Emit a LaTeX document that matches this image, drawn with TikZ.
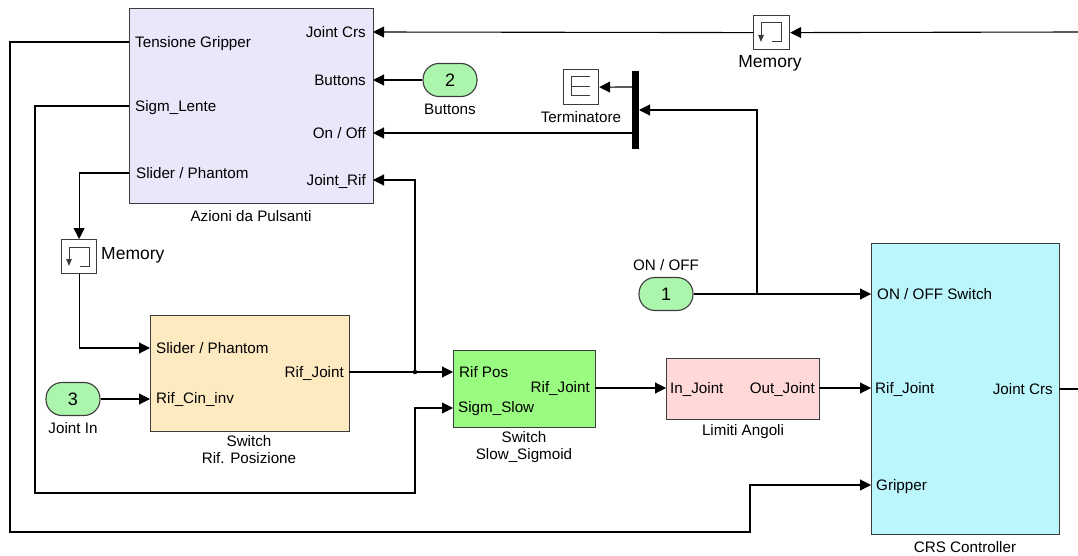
\documentclass[tikz,border=0pt]{standalone}
\usepackage{fontspec}
\setmainfont{Liberation Sans}
\usetikzlibrary{arrows.meta}
\definecolor{azfill}{RGB}{232,232,250}
\definecolor{swrfill}{RGB}{253,234,192}
\definecolor{swsfill}{RGB}{153,252,128}
\definecolor{limfill}{RGB}{255,216,216}
\definecolor{crsfill}{RGB}{186,246,252}
\definecolor{infill}{RGB}{172,245,172}
\definecolor{bordc}{RGB}{60,60,60}
\begin{document}
\begin{tikzpicture}[x=1pt,y=-1pt,
  every node/.style={font=\fontsize{15.2}{17}\selectfont, inner sep=0pt},
  blk/.style={draw=bordc, line width=1.3pt, anchor=north west, inner sep=0pt},
  plab/.style={text height=10.8pt, text depth=0pt},
  blab/.style={align=center},
  inport/.style={draw=bordc, line width=1.1pt, fill=infill, rounded corners=16pt, minimum width=54, minimum height=33, font=\fontsize{18}{20}\selectfont},
  sig/.style={line width=1.1pt, -{Triangle[length=11pt,width=11pt]}},
  wire/.style={line width=1.1pt},
  icon/.style={line width=1pt, draw=bordc}
]
\useasboundingbox (0,0) rectangle (1078,556);

% ---------- blocks ----------
\node[blk, fill=azfill, minimum width=244, minimum height=195] (az) at (129,8) {};
\node[blk, fill=swrfill, minimum width=199, minimum height=116] (swr) at (150,315) {};
\node[blk, fill=swsfill, minimum width=142, minimum height=77] (sws) at (453,350) {};
\node[blk, fill=limfill, minimum width=153, minimum height=61] (lim) at (666,358) {};
\node[blk, fill=crsfill, minimum width=188, minimum height=291] (crs) at (871,243) {};
\node[blk, fill=white, line width=1.2pt, minimum width=36, minimum height=34] (memA) at (753,15) {};
\node[blk, fill=white, line width=1.2pt, minimum width=35, minimum height=34] (memB) at (61,239) {};
\node[blk, fill=white, line width=1.2pt, minimum width=35, minimum height=35] (term) at (563,69) {};
\node[fill=black, minimum width=7, minimum height=78, anchor=north west] (bar) at (632,71) {};

\node[inport] (in1) at (666,294) {1};
\node[inport] (in2) at (450,80) {2};
\node[inport] (in3) at (73,399) {3};

% ---------- icons ----------
\draw[icon] (memA.north west) ++(19,27) -- ++(9,0) -- ++(0,-19) -- ++(-20,0);
\draw[icon, -{Triangle[length=7pt,width=5.5pt]}] (memA.north west) ++(8,8) -- ++(0,19);
\draw[icon] (memB.north west) ++(19,27) -- ++(9,0) -- ++(0,-19) -- ++(-20,0);
\draw[icon, -{Triangle[length=7pt,width=5.5pt]}] (memB.north west) ++(8,8) -- ++(0,19);
\draw[icon] (term.north west) ++(27,8) -- ++(-19,0) -- ++(0,19) -- ++(19,0);
\draw[icon] (term.north west) ++(8,17.5) -- ++(19,0);

% ---------- port labels ----------
\node[plab, anchor=west] (azTG) at (135,42) {Tensione Gripper};
\node[plab, anchor=west] (azSL) at (135,106) {Sigm\_Lente};
\node[plab, anchor=west] (azSP) at (136,173) {Slider / Phantom};
\node[plab, anchor=east] (azJCl) at (366,32) {Joint Crs};
\node[plab, anchor=east] (azBTl) at (366,80) {Buttons};
\node[plab, anchor=east] (azOOl) at (366,133) {On / Off};
\node[plab, anchor=east] (azJRl) at (366,180) {Joint\_Rif};

\node[plab, anchor=west] (swrSP) at (156,348) {Slider / Phantom};
\node[plab, anchor=west] (swrRC) at (156,398) {Rif\_Cin\_inv};
\node[plab, anchor=east] (swrRJ) at (344,372) {Rif\_Joint};

\node[plab, anchor=west] (swsRP) at (459,372) {Rif Pos};
\node[plab, anchor=west] (swsSS) at (458,407) {Sigm\_Slow};
\node[plab, anchor=east] (swsRJ) at (590,387) {Rif\_Joint};

\node[plab, anchor=west] (limIn) at (670,388) {In\_Joint};
\node[plab, anchor=east] (limOut) at (815,388) {Out\_Joint};

\node[plab, anchor=west] (crsON) at (877,294) {ON / OFF Switch};
\node[plab, anchor=west] (crsRJ) at (875,388) {Rif\_Joint};
\node[plab, anchor=west] (crsGR) at (876,485) {Gripper};
\node[plab, anchor=east] (crsJC) at (1053,389) {Joint Crs};

% ---------- block labels ----------
\node[blab] (azL) at (251,216) {Azioni da Pulsanti};
\node[blab] (swrL) at (249,450) {Switch\\Rif. Posizione};
\node[blab] (swsL) at (524,447) {Switch\\Slow\_Sigmoid};
\node[blab] (limL) at (743,432) {Limiti Angoli};
\node[blab] (crsL) at (965,547) {CRS Controller};
\node[blab] (in1L) at (666,265) {ON / OFF};
\node[blab] (in2L) at (450,109) {Buttons};
\node[blab] (in3L) at (73,428) {Joint In};
\node[blab] (termL) at (581,117) {Terminatore};
\node[blab, font=\fontsize{17.5}{20}\selectfont] (memAL) at (770,63) {Memory};
\node[anchor=west, font=\fontsize{17.5}{20}\selectfont] (memBL) at (101,255) {Memory};

% ---------- port coordinates ----------
\coordinate (rin) at (1078,32);
\coordinate (rout) at (1078,389);
\coordinate (azJC) at (373,32);
\coordinate (azBT) at (373,80);
\coordinate (azOO) at (373,133);
\coordinate (azJR) at (373,180);
\coordinate (azTGp) at (129,42);
\coordinate (azSLp) at (129,106);
\coordinate (azSPp) at (129,173);
\coordinate (barT) at (632,87);
\coordinate (barO) at (632,133);
\coordinate (barIn) at (639,110);
\coordinate (swrSPp) at (150,348);
\coordinate (swrRCp) at (150,399);
\coordinate (swrOut) at (349,372);
\coordinate (swsRPp) at (453,372);
\coordinate (swsSSp) at (453,408);
\coordinate (swsOut) at (595,388);
\coordinate (limInp) at (666,388);
\coordinate (limOutp) at (819,388);
\coordinate (crsONp) at (871,294);
\coordinate (crsRJp) at (871,388);
\coordinate (crsGRp) at (871,485);
\coordinate (crsOut) at (1059,389);
\coordinate (jOn) at (757,294);
\coordinate (jRif) at (415,372);

% ---------- connectors ----------
\draw[sig] (rin) -- (memA.east);
\draw[sig] (memA.west) -- (azJC);
\draw[sig] (in2.west) -- (azBT);
\draw[sig] (barT) -- (term.east);
\draw[sig] (barO) -- (azOO);
\draw[sig] (in1.east) -- (crsONp);
\draw[sig] (jOn) |- (barIn);
\draw[sig] (swrOut) -- (swsRPp);
\fill (jRif) circle (2.2pt);
\draw[sig] (jRif) |- (azJR);
\draw[sig] (azSLp) -- (35,106) -- (35,493) -- (415,493) -- (415,408) -- (swsSSp);
\draw[sig] (azTGp) -- (10,42) -- (10,532) -- (750,532) -- (750,485) -- (crsGRp);
\draw[sig] (azSPp) -| (memB.north);
\draw[sig] (memB.south) |- (swrSPp);
\draw[sig] (in3.east) -- (swrRCp);
\draw[sig] (swsOut) -- (limInp);
\draw[sig] (limOutp) -- (crsRJp);
\draw[wire] (crsOut) -- (rout);
\end{tikzpicture}
\end{document}
